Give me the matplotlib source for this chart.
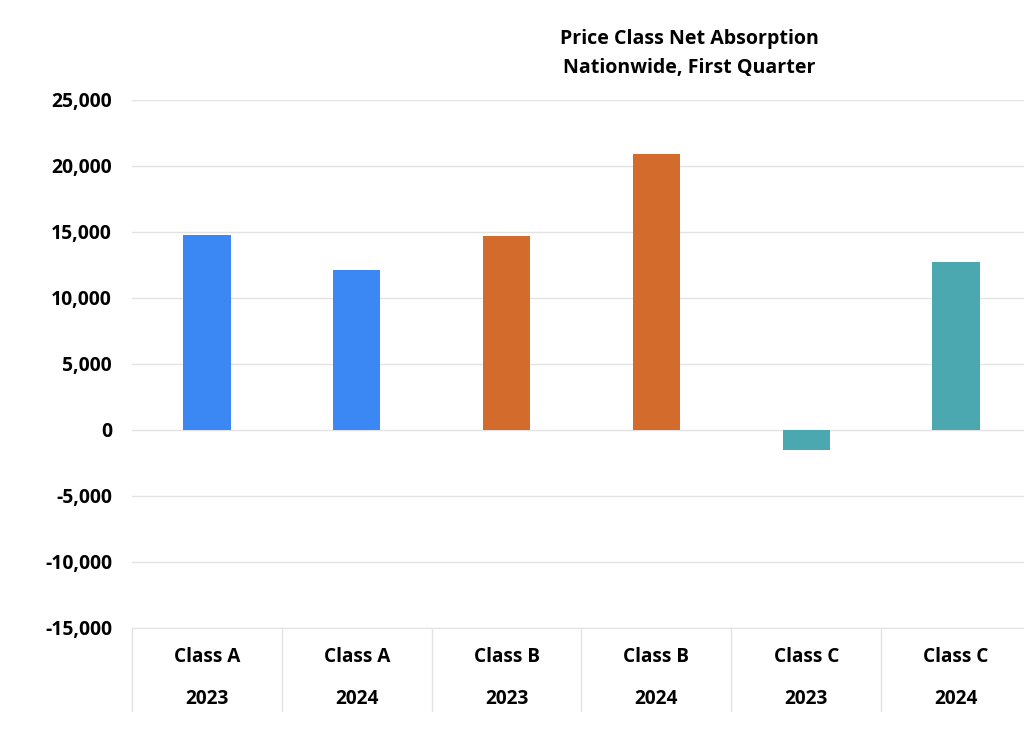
import matplotlib.pyplot as plt
from matplotlib.ticker import FuncFormatter
import matplotlib.transforms as mtransforms

# data
classes = ['Class A', 'Class A', 'Class B', 'Class B', 'Class C', 'Class C']
years = ['2023', '2024', '2023', '2024', '2023', '2024']
absorption = [14750, 12100, 14700, 20900, -1500, 12700]
colors = ['#3b88f5', '#3b88f5', '#d26b2b', '#d26b2b', '#4ba7b0', '#4ba7b0']

plt.rcParams['font.family'] = ['Open Sans', 'DejaVu Sans']
plt.rcParams['font.weight'] = 'bold'

fig = plt.figure(figsize=(10.24, 7.32), dpi=100)
ax = fig.add_axes([132 / 1024, 1 - 627.7 / 732, 899 / 1024, 527.7 / 732])

x = range(len(absorption))
ax.bar(x, absorption, width=0.315, color=colors, zorder=3)

ax.set_xlim(-0.5, len(absorption) - 0.5)
ax.set_ylim(-15000, 25000)
ax.set_yticks(range(-15000, 25001, 5000))
ax.yaxis.set_major_formatter(FuncFormatter(lambda v, p: f'{int(v):,}'))
ax.tick_params(axis='y', length=0, pad=14.4, labelsize=13.9)
ax.set_xticks([])
ax.grid(axis='y', color='#e3e3e3', linewidth=1, zorder=0)
for s in ['top', 'right', 'left']:
    ax.spines[s].set_visible(False)
ax.spines['bottom'].set_color('#e3e3e3')

# category table under the axis
trans = mtransforms.blended_transform_factory(ax.transData, ax.transAxes)
for i in range(len(absorption) + 1):
    ax.plot([i - 0.5, i - 0.5], [0, -0.157], transform=trans, color='#e3e3e3',
            linewidth=1, clip_on=False)
for i in x:
    ax.text(i, -0.056, classes[i], transform=trans, ha='center', va='center', fontsize=13.7)
    ax.text(i, -0.135, years[i], transform=trans, ha='center', va='center', fontsize=13.7)

fig.text(689.5 / 1024, 1 - 39 / 732, 'Price Class Net Absorption', ha='center', va='center', fontsize=14.1)
fig.text(689.5 / 1024, 1 - 68 / 732, 'Nationwide, First Quarter', ha='center', va='center', fontsize=14.1)

fig.savefig('out.png', dpi=100)
